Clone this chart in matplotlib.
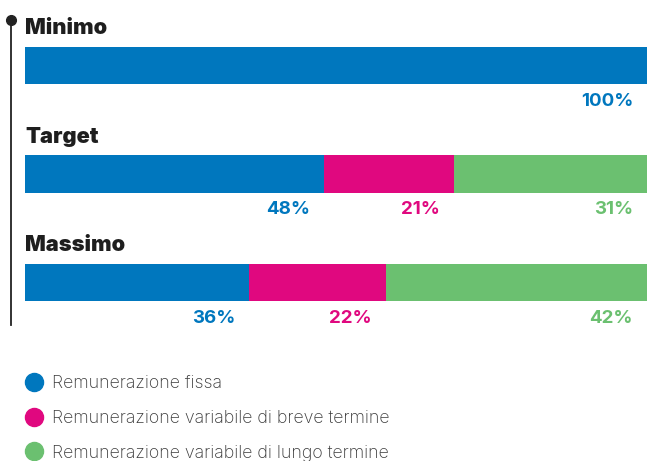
import matplotlib
matplotlib.use("Agg")
import matplotlib.pyplot as plt
from matplotlib.lines import Line2D
import numpy as np

scenarios = ["Minimo", "Target", "Massimo"]
series = [
    "Remunerazione fissa",
    "Remunerazione variabile di breve termine",
    "Remunerazione variabile di lungo termine",
]
fissa = [100, 48, 36]
breve = [0, 21, 22]
lungo = [0, 31, 42]
colors = ["#0077BE", "#E0087F", "#6BC070"]

W, H = 647, 461
fig = plt.figure(figsize=(W / 100, H / 100), dpi=100)
top_px, bot_px = 0, 340
ax = fig.add_axes([25 / W, 1 - bot_px / H, 622 / W, (bot_px - top_px) / H])

step = 108.5
c0 = 65.5
ax.set_xlim(0, 100)
ax.set_ylim((bot_px - c0) / step, (top_px - c0) / step)
ax.axis("off")

y = np.arange(len(scenarios))
left = np.zeros(len(scenarios))
for vals, col in zip([fissa, breve, lungo], colors):
    vals = np.array(vals, dtype=float)
    ax.barh(y, vals, left=left, height=0.35, color=col, linewidth=0)
    for i, v in enumerate(vals):
        if v > 0:
            ax.annotate(f"{v:.0f}%", xy=(left[i] + v, y[i] + 0.33), xytext=(-10, 0),
                        textcoords="offset points", ha="right", va="center",
                        fontsize=13.5, fontweight="bold", color=col, family="Inter")
    left += vals

for i, name in enumerate(scenarios):
    ax.text(0, y[i] - 0.345, name, ha="left", va="center", fontsize=15.7,
            fontweight="black", color="#1e1e1e", family="Inter")

# timeline line with dot
fig.add_artist(Line2D([11 / W, 11 / W], [1 - 20 / H, 1 - 325 / H], color="#222222", lw=1.3))
fig.add_artist(Line2D([11 / W], [1 - 20 / H], marker="o", markersize=7, color="#222222"))

handles = [Line2D([], [], marker="o", linestyle="none", markersize=13,
                  markerfacecolor=c, markeredgecolor=c) for c in colors]
fig.legend(handles, series, loc="upper left", bbox_to_anchor=(18 / W, 1 - 368 / H),
           frameon=False, handletextpad=0.5, labelspacing=1.0, borderaxespad=0,
           handlelength=1.0, prop={"family": "Inter", "size": 12.8, "weight": "light"},
           labelcolor="#3a3a3a")

fig.savefig("out.png", dpi=100)
